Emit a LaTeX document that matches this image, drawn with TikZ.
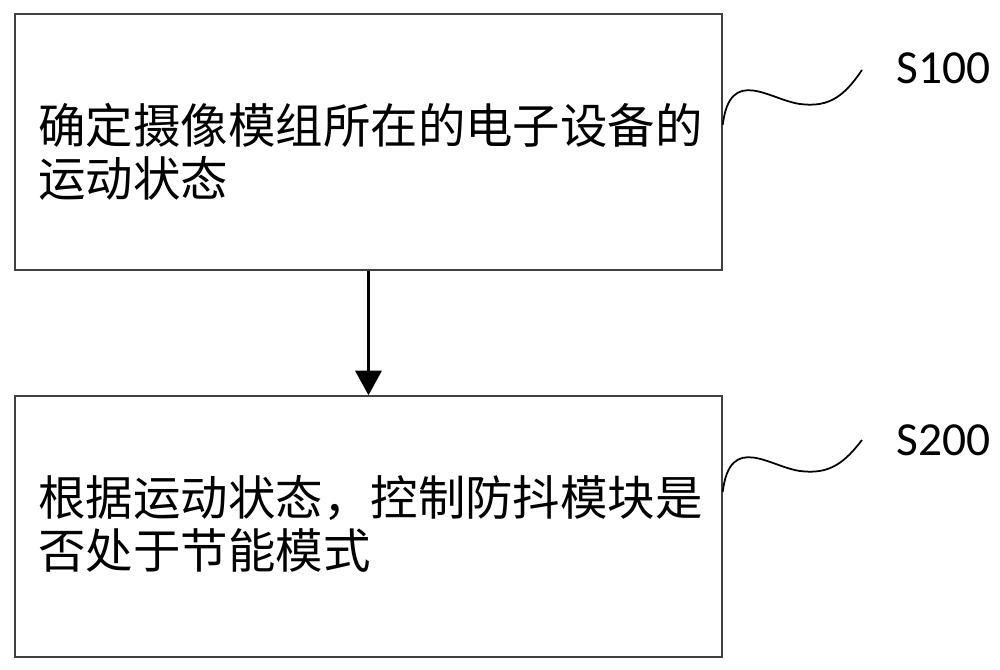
\documentclass[tikz,border=0pt]{standalone}
\usepackage{fontspec}
\newfontfamily\cjk{Noto Sans CJK SC}
\newfontfamily\lab{Carlito}
\usetikzlibrary{arrows.meta}

\tikzset{
  stepbox/.style={draw=black!75, line width=0.4pt, minimum width=70.7mm, text width=66mm,
    align=left, inner sep=0pt, font=\cjk\fontsize{13.5pt}{15pt}\selectfont},
  wave/.style={draw=black, line width=0.5pt},
  steplabel/.style={font=\lab\fontsize{13.5pt}{15pt}\selectfont, anchor=west}
}

\begin{document}
\begin{tikzpicture}[x=0.1mm, y=-0.1mm]
    \useasboundingbox (0,0) rectangle (1000,670);

    \node[stepbox, minimum height=25.6mm] (det) at (368.5,142) {};
    \node[stepbox, minimum height=26.1mm] (ctl) at (368.5,526.5) {};
    \node[stepbox, draw=none] (dett) at (368.5,152) {确定摄像模组所在的电子设备的\\运动状态};
    \node[stepbox, draw=none] (ctlt) at (368.5,524) {根据运动状态，控制防抖模块是\\否处于节能模式};

    \draw[line width=0.9pt, -{Triangle[width=7.4pt, length=7pt]}] (det) -- (ctl);

    % step labels
    \coordinate (w1) at (862,70);
    \coordinate (w2) at (862,440);
    \draw[wave] (det.east |- 0,125) .. controls (730,65) and (770,100) .. (800,104) .. controls (830,108) and (845,95) .. (w1);
    \draw[wave] (ctl.east |- 0,492) .. controls (730,432) and (770,467) .. (800,471) .. controls (830,475) and (845,462) .. (w2);
    \node[steplabel] (s1) at (884,68) {S100};
    \node[steplabel] (s2) at (884,440) {S200};
\end{tikzpicture}
\end{document}
